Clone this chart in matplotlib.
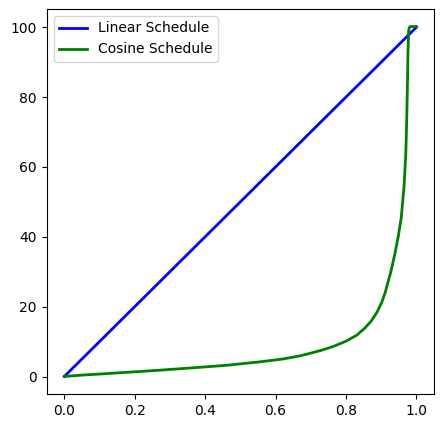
import matplotlib
matplotlib.use("Agg")
import matplotlib.pyplot as plt

linear_x = [0.0, 1.0]
linear_y = [0.0, 100.0]

cosine_x = [0.0, 0.05, 0.1, 0.178, 0.27, 0.367, 0.46, 0.556, 0.62, 0.669, 0.697,
            0.73, 0.764, 0.8, 0.83, 0.852, 0.872, 0.888, 0.901, 0.911, 0.919,
            0.926, 0.932, 0.939, 0.948, 0.957, 0.965, 0.970, 0.9725, 0.9745,
            0.976, 0.978, 0.980, 0.983, 0.99, 1.0]
cosine_y = [0.0, 0.4, 0.7, 1.2, 1.8, 2.5, 3.2, 4.2, 5.0, 5.9, 6.6,
            7.5, 8.6, 10.1, 11.8, 13.7, 15.9, 18.4, 21.1, 23.9, 26.9,
            29.4, 32.0, 35.2, 39.8, 45.5, 54.5, 64.0, 73.5, 83.0,
            92.6, 99.0, 99.9, 100.2, 100.2, 100.2]

W, H = 443, 428
fig = plt.figure(figsize=(W / 100, H / 100), dpi=100)
ax = fig.add_axes([46.7 / W, (H - 394) / H, 387.3 / W, 385 / H])
ax.plot(linear_x, linear_y, color="blue", linewidth=2, label="Linear Schedule")
ax.plot(cosine_x, cosine_y, color="green", linewidth=2, label="Cosine Schedule")
ax.legend(loc="upper left")
fig.savefig("out.png", dpi=100)
